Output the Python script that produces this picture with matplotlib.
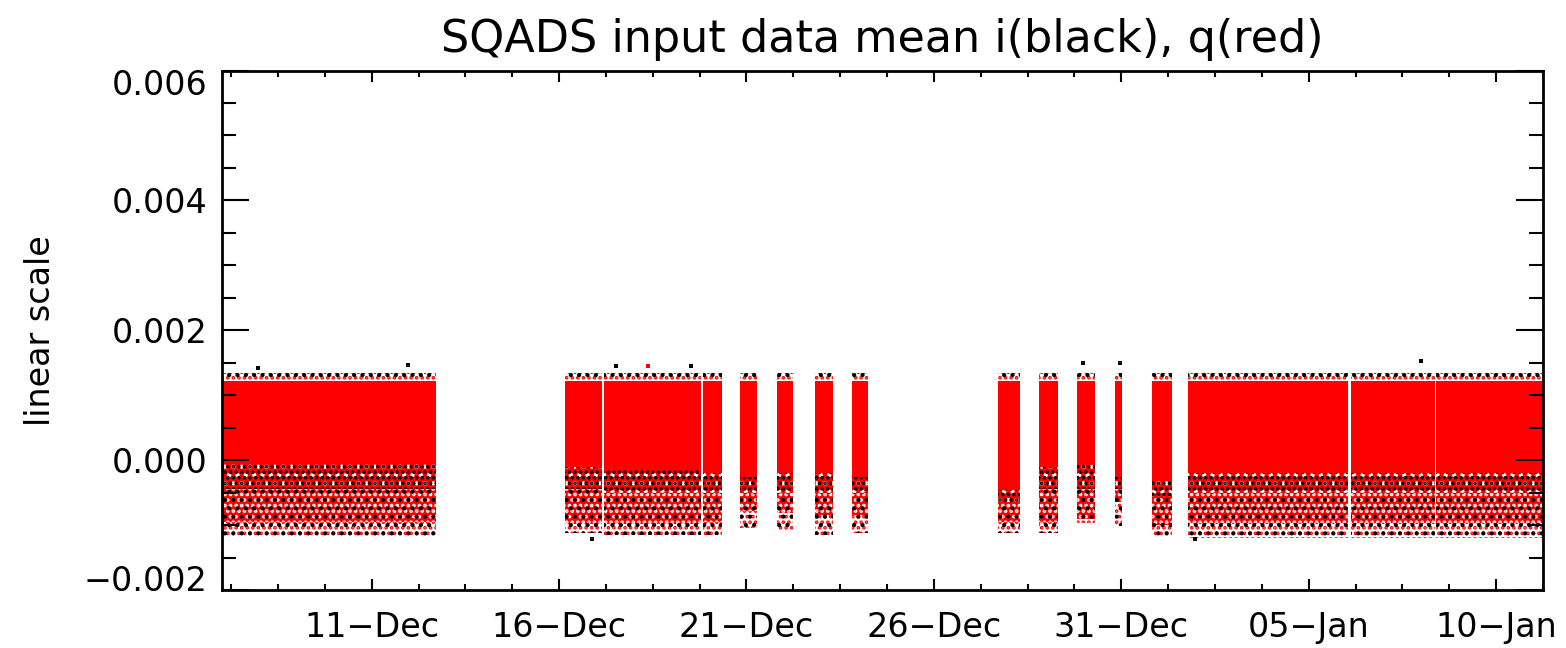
import numpy as np
import pandas as pd
import matplotlib
matplotlib.use("Agg")
import matplotlib.pyplot as plt
import matplotlib.dates as mdates
from matplotlib.ticker import FixedLocator, MultipleLocator, FuncFormatter
from matplotlib.transforms import ScaledTranslation

plt.rcParams['font.family'] = ['DejaVu Sans']
plt.rcParams['hatch.linewidth'] = 1.8

# contiguous stretches of SQADS input data
seg_start = ["2013-12-07 00:00", "2013-12-16 03:50", "2013-12-17 04:50", "2013-12-19 19:55",
             "2013-12-20 19:55", "2013-12-21 19:40", "2013-12-22 19:55", "2013-12-23 19:40",
             "2013-12-27 17:00", "2013-12-28 19:25", "2013-12-29 19:40", "2013-12-30 20:10",
             "2013-12-31 19:40", "2014-01-01 18:45", "2014-01-06 02:50", "2014-01-08 09:20"]
seg_end = ["2013-12-12 17:15", "2013-12-17 03:20", "2013-12-19 18:45", "2013-12-20 08:10",
           "2013-12-21 06:30", "2013-12-22 05:45", "2013-12-23 07:25", "2013-12-24 05:45",
           "2013-12-28 07:10", "2013-12-29 07:25", "2013-12-30 07:10", "2013-12-31 00:30",
           "2014-01-01 08:40", "2014-01-06 01:10", "2014-01-08 08:40", "2014-01-11 06:00"]

# q (red) dense band: top and bottom of the solid part
q_top = 0.00122
q_fringe = 0.00134
q_low = [-0.00005, -0.00010, -0.00015, -0.00020, -0.00026, -0.00020, -0.00020, -0.00026,
         -0.00046, -0.00010, -0.00007, -0.00026, -0.00030, -0.00020, -0.00020, -0.00020]
# where the band breaks up, lower edge of the mixed i/q scatter, sparse tail
q_break = [-0.00045, -0.00045, -0.00050, -0.00050, -0.00050, -0.00050, -0.00050, -0.00050,
           -0.00065, -0.00045, -0.00045, -0.00045, -0.00055, -0.00050, -0.00050, -0.00050]
mix_low = [-0.00095, -0.00098, -0.00098, -0.00095, -0.00078, -0.00082, -0.00085, -0.00085,
           -0.00095, -0.00095, -0.00090, -0.00065, -0.00100, -0.00097, -0.00097, -0.00097]
tail_low = [-0.00118, -0.00112, -0.00115, -0.00115, -0.00105, -0.00107, -0.00115, -0.00112,
            -0.00112, -0.00112, -0.00097, -0.00102, -0.00117, -0.00120, -0.00120, -0.00120]

# isolated i (black) / q (red) points outside the band
i_out_time = ["2013-12-07 23:15", "2013-12-11 23:15", "2013-12-17 12:30", "2013-12-19 12:15",
              "2013-12-29 23:15", "2013-12-30 23:15", "2014-01-07 23:45",
              "2013-12-16 20:50", "2014-01-01 23:15"]
i_out_val = [0.00142, 0.00146, 0.00145, 0.00145, 0.00149, 0.00149, 0.00153, -0.00122, -0.00122]
q_out_time = ["2013-12-18 08:50"]
q_out_val = [0.00145]

tick_dates = ["2013-12-11", "2013-12-16", "2013-12-21", "2013-12-26",
              "2013-12-31", "2014-01-05", "2014-01-10"]
x_range = ["2013-12-07 00:00", "2014-01-11 06:00"]
y_range = [-0.002, 0.006]

starts = pd.to_datetime(seg_start).to_pydatetime()
ends = pd.to_datetime(seg_end).to_pydatetime()

fig = plt.figure(figsize=(15.66, 6.48), dpi=100)
ax = fig.add_axes([0.1416, 0.0895, 0.8437, 0.8017])


def speckle(xs, lo, hi, back=None, layers=()):
    if back:
        ax.fill_between(xs, lo, hi, color=back, lw=0)
    for col, pat in layers:
        ax.fill_between(xs, lo, hi, facecolor='none', edgecolor=col, hatch=pat, lw=0)


for s, e, lo, br, ml, tl in zip(starts, ends, q_low, q_break, mix_low, tail_low):
    xs = [s, e]
    ax.fill_between(xs, lo, q_top, color='red', lw=0)
    speckle(xs, q_top, q_fringe, layers=[('red', '...'), ('black', '..')])
    speckle(xs, br, lo, back='red', layers=[('white', '..'), ('black', '...')])
    speckle(xs, ml, br, back='red', layers=[('white', '...'), ('black', '..')])
    speckle(xs, tl, ml, layers=[('red', '...'), ('black', '..')])

ax.scatter(pd.to_datetime(i_out_time), i_out_val, s=6, marker='s', color='black', lw=0)
ax.scatter(pd.to_datetime(q_out_time), q_out_val, s=6, marker='s', color='red', lw=0)

ax.set_xlim(pd.to_datetime(x_range))
ax.set_ylim(y_range)

major_x = mdates.date2num(pd.to_datetime(tick_dates).to_pydatetime())
ax.xaxis.set_major_locator(FixedLocator(major_x))
ax.xaxis.set_minor_locator(MultipleLocator(1.25, offset=major_x[0]))
ax.xaxis.set_major_formatter(FuncFormatter(
    lambda v, p: mdates.num2date(v).strftime('%d') + '\u2212' + mdates.num2date(v).strftime('%b')))
ax.yaxis.set_major_locator(MultipleLocator(0.002))
ax.yaxis.set_minor_locator(MultipleLocator(0.0005))
ax.yaxis.set_major_formatter(FuncFormatter(lambda v, p: f"{v:.3f}".replace('-', '\u2212')))

ax.tick_params(axis='both', which='both', direction='in', width=1.5, top=True, right=True,
               labelsize=24, colors='black')
ax.tick_params(axis='x', which='major', length=8, pad=15)
ax.tick_params(axis='x', which='minor', length=4)
ax.tick_params(axis='y', which='major', length=19.5, pad=10)
ax.tick_params(axis='y', which='minor', length=10)
for sp in ax.spines.values():
    sp.set_linewidth(2)

# the labels at the ends of the y range sit inside it
ylocs = ax.yaxis.get_majorticklocs()
yticks = ax.yaxis.get_major_ticks(len(ylocs))
for loc, tick in zip(ylocs, yticks):
    if np.isclose(loc, y_range[0]):
        shift = 12
    elif np.isclose(loc, y_range[1]):
        shift = -11
    else:
        continue
    tick.label1.set_transform(tick.label1.get_transform() +
                              ScaledTranslation(0, shift / 100, fig.dpi_scale_trans))

ax.set_title("SQADS input data mean i(black), q(red)", fontsize=32, pad=13)
ax.set_ylabel("linear scale", fontsize=24)
ax.yaxis.set_label_coords(-0.125, 0.5)

fig.savefig("out.png", dpi=100)
